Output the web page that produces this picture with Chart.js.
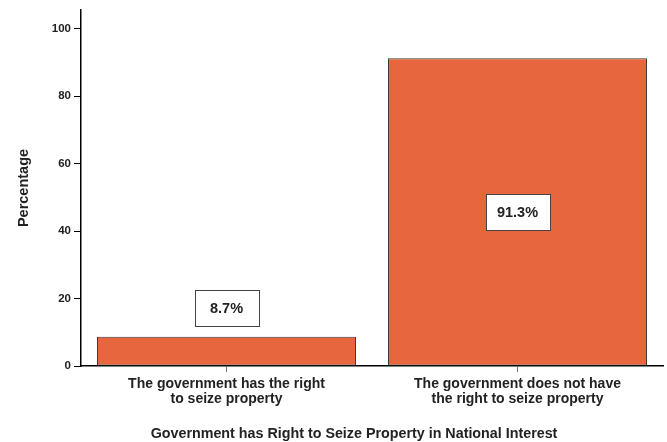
<!DOCTYPE html>
<html>
<head>
<meta charset="utf-8">
<script src="https://cdn.jsdelivr.net/npm/chart.js@4.4.1/dist/chart.umd.min.js"></script>
<style>
html, body { margin: 0; padding: 0; background: #fff; }
#wrap { width: 667px; height: 442px; }
</style>
</head>
<body>
<div id="wrap"><canvas id="chart"></canvas></div>
<script>
// Data
const categories = [
["The government has the right", "to seize property"],
["The government does not have", "the right to seize property"]
];
const percentages = [8.7, 91.3];
const yTicks = [0, 20, 40, 60, 80, 100];

const barColor = "#e8663e";
const textColor = "#222";
const fontFamily = "'Liberation Sans', Arial, Helvetica, sans-serif";


// Boxed percentage labels
const boxLabels = {
id: "boxLabels",
afterDatasetsDraw(chart) {
const ctx = chart.ctx;
const meta = chart.getDatasetMeta(0);
ctx.save();
ctx.font = "bold 14.5px " + fontFamily;
ctx.textAlign = "center";
ctx.textBaseline = "middle";
meta.data.forEach((bar, i) => {
const h = bar.base - bar.y;
const cy = h > 60 ? (bar.y + bar.base) / 2 : bar.y - 29;
const w = 64, bh = 36;
const bx = Math.round(bar.x - w / 2) + 0.5;
const by = Math.round(cy - bh / 2) + 0.5;
ctx.fillStyle = "#fff";
ctx.strokeStyle = "#444";
ctx.lineWidth = 1;
ctx.fillRect(bx, by, w, bh);
ctx.strokeRect(bx, by, w, bh);
ctx.fillStyle = textColor;
ctx.fillText(percentages[i].toFixed(1) + "%", bar.x, cy + 1);
});
ctx.restore();
}
};


// X axis title
const xTitle = {
id: "xTitle",
afterDraw(chart) {
const ctx = chart.ctx;
ctx.save();
ctx.font = "bold 14.3px " + fontFamily;
ctx.fillStyle = textColor;
ctx.textAlign = "center";
ctx.textBaseline = "middle";
ctx.fillText("Government has Right to Seize Property in National Interest", 354, 434);
ctx.restore();
}
};


new Chart(document.getElementById("chart"), {
type: "bar",
data: {
labels: categories,
datasets: [{
data: percentages,
backgroundColor: barColor,
borderColor: "#3a3a3a",
borderWidth: 1,
borderSkipped: false,
categoryPercentage: 0.89,
barPercentage: 1
}]
},
options: {
responsive: true,
maintainAspectRatio: false,
animation: false,
layout: { padding: { top: 10, right: 4, left: 0, bottom: 0 } },
plugins: {
legend: { display: false },
tooltip: { enabled: false }
},
scales: {
x: {
grid: {
display: true,
drawOnChartArea: false,
drawTicks: true,
tickLength: 6,
offset: false,
color: "#777"
},
border: { display: true, color: "#000", width: 1.5 },
ticks: {
color: textColor,
font: { family: fontFamily, size: 14, weight: "bold", lineHeight: 1.1 },
padding: 4,
maxRotation: 0
},
afterFit(scale) { scale.height = 76; }
},
y: {
min: 0,
max: 105.6,
afterBuildTicks(scale) {
scale.ticks = yTicks.map(v => ({ value: v }));
},
grid: {
display: true,
drawOnChartArea: false,
drawTicks: true,
tickLength: 7,
color: "#000"
},
border: { display: true, color: "#000", width: 1.5 },
ticks: {
color: textColor,
font: { family: fontFamily, size: 11.5, weight: "bold" },
padding: 3
},
title: {
display: true,
text: "Percentage",
color: textColor,
font: { family: fontFamily, size: 14.5, weight: "bold" },
padding: { top: 15, bottom: 0 }
},
afterFit(scale) { scale.width = 81; }
}
}
},
plugins: [boxLabels, xTitle]
});
</script>
</body>
</html>
